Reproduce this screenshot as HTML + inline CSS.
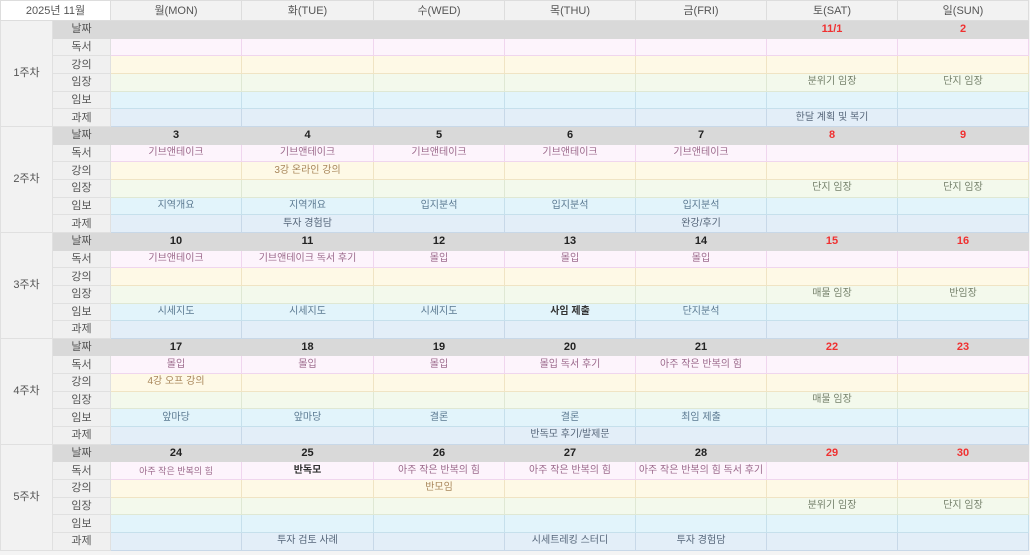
<!DOCTYPE html>
<html><head><meta charset="utf-8"><style>
body{margin:0;background:#f4f4f4;width:1030px;height:555px;overflow:hidden;font-family:"Liberation Sans","Noto Sans CJK KR",sans-serif;}
table{border-collapse:collapse;table-layout:fixed;position:absolute;left:0;top:0;width:1028px;}
td{height:16.67px;padding:0;font-size:10px;text-align:center;white-space:nowrap;overflow:hidden;border:1px solid #dcdcdc;line-height:16px;}
tr.h td{height:19px;background:#f2f2f2;color:#555;font-size:11px;border-color:#ddd;}
tr.h td.t{background:#fff;}
td.w{background:#f2f2f2;color:#555;font-size:11px;border-color:#e0e0e0;}
td.l{background:#f0f0f0;color:#555;font-size:11px;border-color:#e0e0e0;}
tr.d td.c{background:#d9d9d9;border-color:#d9d9d9;font-weight:bold;color:#222;font-size:11px;}
tr.d td.l{background:#d9d9d9;border-color:#d9d9d9;}
tr.d td.r{color:#f03030;}
tr.b td.c{background:#fdf4fc;border-color:#f0d6ee;color:#9c6a8c;}
tr.g td.c{background:#fef9e6;border-color:#f0e4c4;color:#a8865a;}
tr.i td.c{background:#f3f9ec;border-color:#dfe8d4;color:#74806a;}
tr.p td.c{background:#e2f4fb;border-color:#c6e0ec;color:#5a7890;}
tr.k td.c{background:#e3eef8;border-color:#c8d8e8;color:#56667a;}
td.bd{font-weight:bold;color:#333 !important;}
</style></head><body>
<table>
<colgroup><col style="width:52px"><col style="width:58px"><col style="width:131px"><col style="width:132px"><col style="width:131px"><col style="width:131px"><col style="width:131px"><col style="width:131px"><col style="width:131px"></colgroup>
<tr class="h"><td colspan="2" class="t">2025년 11월</td><td>월(MON)</td><td>화(TUE)</td><td>수(WED)</td><td>목(THU)</td><td>금(FRI)</td><td>토(SAT)</td><td>일(SUN)</td></tr>

<tr class="d"><td class="w" rowspan="6">1주차</td><td class="l">날짜</td><td class="c"></td><td class="c"></td><td class="c"></td><td class="c"></td><td class="c"></td><td class="c r">11/1</td><td class="c r">2</td></tr>
<tr class="b"><td class="l">독서</td><td class="c"></td><td class="c"></td><td class="c"></td><td class="c"></td><td class="c"></td><td class="c"></td><td class="c"></td></tr>
<tr class="g"><td class="l">강의</td><td class="c"></td><td class="c"></td><td class="c"></td><td class="c"></td><td class="c"></td><td class="c"></td><td class="c"></td></tr>
<tr class="i"><td class="l">임장</td><td class="c"></td><td class="c"></td><td class="c"></td><td class="c"></td><td class="c"></td><td class="c">분위기 임장</td><td class="c">단지 임장</td></tr>
<tr class="p"><td class="l">임보</td><td class="c"></td><td class="c"></td><td class="c"></td><td class="c"></td><td class="c"></td><td class="c"></td><td class="c"></td></tr>
<tr class="k"><td class="l">과제</td><td class="c"></td><td class="c"></td><td class="c"></td><td class="c"></td><td class="c"></td><td class="c">한달 계획 및 복기</td><td class="c"></td></tr>

<tr class="d"><td class="w" rowspan="6">2주차</td><td class="l">날짜</td><td class="c">3</td><td class="c">4</td><td class="c">5</td><td class="c">6</td><td class="c">7</td><td class="c r">8</td><td class="c r">9</td></tr>
<tr class="b"><td class="l">독서</td><td class="c">기브앤테이크</td><td class="c">기브앤테이크</td><td class="c">기브앤테이크</td><td class="c">기브앤테이크</td><td class="c">기브앤테이크</td><td class="c"></td><td class="c"></td></tr>
<tr class="g"><td class="l">강의</td><td class="c"></td><td class="c">3강 온라인 강의</td><td class="c"></td><td class="c"></td><td class="c"></td><td class="c"></td><td class="c"></td></tr>
<tr class="i"><td class="l">임장</td><td class="c"></td><td class="c"></td><td class="c"></td><td class="c"></td><td class="c"></td><td class="c">단지 임장</td><td class="c">단지 임장</td></tr>
<tr class="p"><td class="l">임보</td><td class="c">지역개요</td><td class="c">지역개요</td><td class="c">입지분석</td><td class="c">입지분석</td><td class="c">입지분석</td><td class="c"></td><td class="c"></td></tr>
<tr class="k"><td class="l">과제</td><td class="c"></td><td class="c">투자 경험담</td><td class="c"></td><td class="c"></td><td class="c">완강/후기</td><td class="c"></td><td class="c"></td></tr>

<tr class="d"><td class="w" rowspan="6">3주차</td><td class="l">날짜</td><td class="c">10</td><td class="c">11</td><td class="c">12</td><td class="c">13</td><td class="c">14</td><td class="c r">15</td><td class="c r">16</td></tr>
<tr class="b"><td class="l">독서</td><td class="c">기브앤테이크</td><td class="c">기브앤테이크 독서 후기</td><td class="c">몰입</td><td class="c">몰입</td><td class="c">몰입</td><td class="c"></td><td class="c"></td></tr>
<tr class="g"><td class="l">강의</td><td class="c"></td><td class="c"></td><td class="c"></td><td class="c"></td><td class="c"></td><td class="c"></td><td class="c"></td></tr>
<tr class="i"><td class="l">임장</td><td class="c"></td><td class="c"></td><td class="c"></td><td class="c"></td><td class="c"></td><td class="c">매물 임장</td><td class="c">반임장</td></tr>
<tr class="p"><td class="l">임보</td><td class="c">시세지도</td><td class="c">시세지도</td><td class="c">시세지도</td><td class="c bd">사임 제출</td><td class="c">단지분석</td><td class="c"></td><td class="c"></td></tr>
<tr class="k"><td class="l">과제</td><td class="c"></td><td class="c"></td><td class="c"></td><td class="c"></td><td class="c"></td><td class="c"></td><td class="c"></td></tr>

<tr class="d"><td class="w" rowspan="6">4주차</td><td class="l">날짜</td><td class="c">17</td><td class="c">18</td><td class="c">19</td><td class="c">20</td><td class="c">21</td><td class="c r">22</td><td class="c r">23</td></tr>
<tr class="b"><td class="l">독서</td><td class="c">몰입</td><td class="c">몰입</td><td class="c">몰입</td><td class="c">몰입 독서 후기</td><td class="c">아주 작은 반복의 힘</td><td class="c"></td><td class="c"></td></tr>
<tr class="g"><td class="l">강의</td><td class="c">4강 오프 강의</td><td class="c"></td><td class="c"></td><td class="c"></td><td class="c"></td><td class="c"></td><td class="c"></td></tr>
<tr class="i"><td class="l">임장</td><td class="c"></td><td class="c"></td><td class="c"></td><td class="c"></td><td class="c"></td><td class="c">매물 임장</td><td class="c"></td></tr>
<tr class="p"><td class="l">임보</td><td class="c">앞마당</td><td class="c">앞마당</td><td class="c">결론</td><td class="c">결론</td><td class="c">최임 제출</td><td class="c"></td><td class="c"></td></tr>
<tr class="k"><td class="l">과제</td><td class="c"></td><td class="c"></td><td class="c"></td><td class="c">반독모 후기/발제문</td><td class="c"></td><td class="c"></td><td class="c"></td></tr>

<tr class="d"><td class="w" rowspan="6">5주차</td><td class="l">날짜</td><td class="c">24</td><td class="c">25</td><td class="c">26</td><td class="c">27</td><td class="c">28</td><td class="c r">29</td><td class="c r">30</td></tr>
<tr class="b"><td class="l">독서</td><td class="c" style="font-size:9px">아주 작은 반복의 힘</td><td class="c bd">반독모</td><td class="c">아주 작은 반복의 힘</td><td class="c">아주 작은 반복의 힘</td><td class="c">아주 작은 반복의 힘 독서 후기</td><td class="c"></td><td class="c"></td></tr>
<tr class="g"><td class="l">강의</td><td class="c"></td><td class="c"></td><td class="c">반모임</td><td class="c"></td><td class="c"></td><td class="c"></td><td class="c"></td></tr>
<tr class="i"><td class="l">임장</td><td class="c"></td><td class="c"></td><td class="c"></td><td class="c"></td><td class="c"></td><td class="c">분위기 임장</td><td class="c">단지 임장</td></tr>
<tr class="p"><td class="l">임보</td><td class="c"></td><td class="c"></td><td class="c"></td><td class="c"></td><td class="c"></td><td class="c"></td><td class="c"></td></tr>
<tr class="k"><td class="l">과제</td><td class="c"></td><td class="c">투자 검토 사례</td><td class="c"></td><td class="c">시세트레킹 스터디</td><td class="c">투자 경험담</td><td class="c"></td><td class="c"></td></tr>
</table>
</body></html>
